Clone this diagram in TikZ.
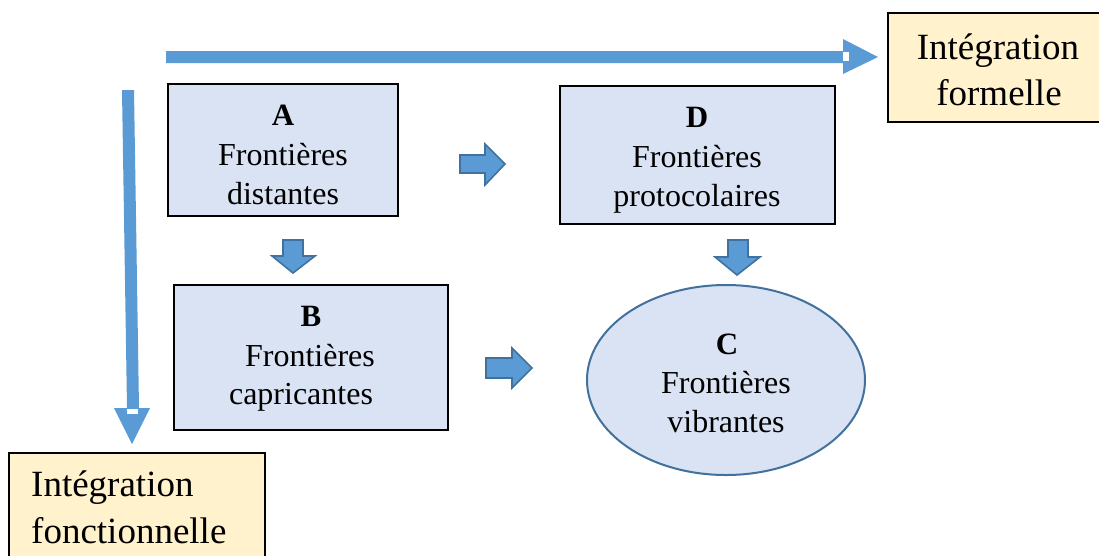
\documentclass[tikz,border=0pt]{standalone}
\usepackage{fontspec}
\setmainfont{Liberation Serif}
\usetikzlibrary{shapes.geometric}
\definecolor{boxfill}{HTML}{DAE3F3}
\definecolor{yelfill}{HTML}{FFF2CC}
\definecolor{arrfill}{HTML}{5B9BD5}
\definecolor{arrline}{HTML}{41719C}
\begin{document}
\begin{tikzpicture}[x=1pt,y=-1pt,
  bluebox/.style={draw=black, line width=1.8pt, fill=boxfill, rectangle, inner sep=0pt},
  yelbox/.style={draw=black, line width=1.8pt, fill=yelfill, rectangle, inner sep=0pt},
  ellbox/.style={draw=arrline, line width=2pt, fill=boxfill, ellipse, inner sep=0pt},
  lbl/.style={anchor=base, inner sep=0pt, font=\fontsize{32}{38}\selectfont},
  ltr/.style={anchor=base, inner sep=0pt, font=\fontsize{31}{36}\selectfont\bfseries},
  ylbl/.style={anchor=base, inner sep=0pt, font=\fontsize{37}{44}\selectfont},
  blockarrow/.style={draw=arrline, fill=arrfill, line width=1.6pt, line join=miter},
  longarrow/.style={fill=arrfill, draw=none}]
\useasboundingbox (0,0) rectangle (1099,555);
\clip (0,0) rectangle (1099,555);
\fill[white] (0,0) rectangle (1099,555);

% long arrows
\fill[longarrow] (166,51) -- (843,51) -- (843,39) -- (878,57) -- (843,74) -- (843,63) -- (166,63) -- cycle;
\fill[white] (843,52) rectangle (849,61);
\fill[longarrow] (122,90) -- (134,90) -- (139,408) -- (150,408) -- (132,444) -- (114,408) -- (127,408) -- cycle;
\fill[white] (127,409) rectangle (138,414);

% boxes
\node[bluebox, minimum width=230, minimum height=132] (A) at (283,150) {};
\node[bluebox, minimum width=275, minimum height=138] (D) at (697.5,155) {};
\node[bluebox, minimum width=274, minimum height=145] (B) at (311,357.5) {};
\node[ellbox, minimum width=278, minimum height=190] (C) at (726,380) {};
\node[yelbox, minimum width=222, minimum height=109] (F) at (999,67.5) {};
\node[yelbox, minimum width=256, minimum height=160] (G) at (137,533) {};

% texts
\node[ltr] (Al) at (283,125) {A};
\node[lbl] (A1) at (283,165) {Frontières};
\node[lbl] (A2) at (283,204) {distantes};
\node[ltr] (Dl) at (697,127) {D};
\node[lbl] (D1) at (697,167) {Frontières};
\node[lbl] (D2) at (697,206) {protocolaires};
\node[ltr] (Bl) at (311,326) {B};
\node[lbl] (B1) at (310,366) {Frontières};
\node[lbl] (B2) at (301,404) {capricantes};
\node[ltr] (Cl) at (727,354) {C};
\node[lbl] (C1) at (726,393) {Frontières};
\node[lbl] (C2) at (726,432) {vibrantes};
\node[ylbl] (F1) at (998,59) {Intégration};
\node[ylbl] (F2) at (999,105) {formelle};
\node[ylbl, anchor=base west] (G1) at (31,496) {Intégration};
\node[ylbl, anchor=base west] (G2) at (31,543) {fonctionnelle};

% block arrows
\draw[blockarrow] (460,155) -- (485,155) -- (485,144) -- (505,164) -- (485,185) -- (485,173) -- (460,173) -- cycle;
\draw[blockarrow] (283,240) -- (303,240) -- (303,256) -- (315,256) -- (293,273) -- (272,256) -- (283,256) -- cycle;
\draw[blockarrow] (728,240) -- (748,240) -- (748,257) -- (760,257) -- (737,275) -- (715,257) -- (728,257) -- cycle;
\draw[blockarrow] (486,358) -- (512,358) -- (512,348) -- (532,368) -- (512,388) -- (512,378) -- (486,378) -- cycle;
\end{tikzpicture}
\end{document}
